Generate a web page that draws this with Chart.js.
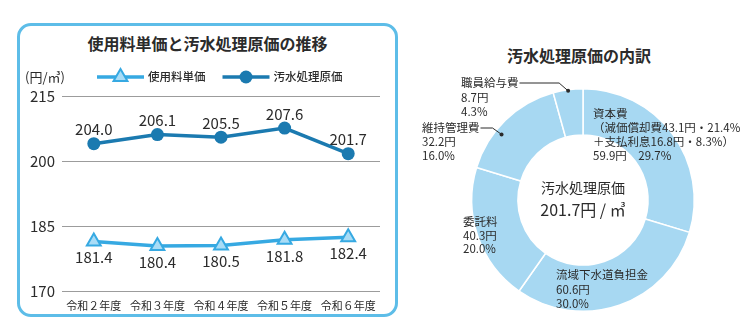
<!DOCTYPE html>
<html lang="ja">
<head>
<meta charset="utf-8">
<title>使用料単価と汚水処理原価</title>
<script src="https://cdn.jsdelivr.net/npm/chart.js@4.4.1/dist/chart.umd.min.js"></script>
<style>
  html, body { margin: 0; padding: 0; background: #fff; }
  body {
    width: 752px; height: 324px; position: relative; overflow: hidden;
    font-family: "Noto Sans CJK JP", "Noto Sans", sans-serif; color: #2b2b2b;
  }
  .panel {
    position: absolute; left: 17px; top: 23px; width: 381px; height: 294px;
    box-sizing: border-box; border: 3px solid #5dbde8; border-radius: 14px;
  }
  .title {
    position: absolute; font-size: 16px; line-height: 20px; font-weight: bold;
    text-align: center; white-space: nowrap;
  }
  #trendTitle { left: 17px; width: 381px; top: 33px; }
  #costTitle  { left: 400px; width: 358px; top: 45px; }
  canvas { position: absolute; top: 0; }
  #trend { left: 0; }
  #cost  { left: 400px; }
</style>
</head>
<body>
<div class="panel"></div>
<div class="title" id="trendTitle">使用料単価と汚水処理原価の推移</div>
<div class="title" id="costTitle">汚水処理原価の内訳</div>
<canvas id="trend" width="400" height="324"></canvas>
<canvas id="cost" width="352" height="324"></canvas>

<script>
  // ── Data ────────────────────────────────────────────────────────────────
  const YEARS      = ['令和２年度', '令和３年度', '令和４年度', '令和５年度', '令和６年度'];
  const USAGE_FEE  = [181.4, 180.4, 180.5, 181.8, 182.4];   // 使用料単価 (円/㎥)
  const TREAT_COST = [204.0, 206.1, 205.5, 207.6, 201.7];   // 汚水処理原価 (円/㎥)
  const Y_TICKS    = [170, 185, 200, 215];

  const COST_ITEMS = ['資本費', '流域下水道負担金', '委託料', '維持管理費', '職員給与費'];
  const COST_YEN   = [59.9, 60.6, 40.3, 32.2, 8.7];
  const COST_PCT   = [29.7, 30.0, 20.0, 16.0, 4.3];
  // 資本費の内訳
  const CAPITAL_PARTS = ['減価償却費', '支払利息'];
  const CAPITAL_YEN   = [43.1, 16.8];
  const CAPITAL_PCT   = [21.4, 8.3];

  const FONT = '"Noto Sans CJK JP", "Noto Sans", sans-serif';
  const INK  = '#2b2b2b';
  const LIGHT_BLUE = '#36a9e2';
  const DEEP_BLUE  = '#1b7ab0';
  const RING_BLUE  = '#a7d8f2';

  // ── Line chart: legend drawn as line + marker ───────────────────────────
  const lineLegend = {
    id: 'lineLegend',
    afterDraw(chart, args, opts) {
      const { ctx, chartArea } = chart;
      const y = chartArea.top - 19;
      ctx.save();
      ctx.textBaseline = 'middle';
      ctx.textAlign = 'left';
      ctx.fillStyle = INK;
      ctx.font = '13px ' + FONT;
      ctx.fillText('(円/㎥)', opts.unitX, y);

      let x = opts.startX;
      ctx.font = '500 11.5px ' + FONT;
      chart.data.datasets.forEach(ds => {
        ctx.strokeStyle = ds.borderColor;
        ctx.lineWidth = ds.borderWidth;
        ctx.beginPath();
        ctx.moveTo(x, y);
        ctx.lineTo(x + opts.lineLength, y);
        ctx.stroke();

        ctx.fillStyle = ds.pointBackgroundColor;
        ctx.strokeStyle = ds.pointBorderColor;
        ctx.lineWidth = ds.pointBorderWidth;
        Chart.helpers.drawPoint(ctx, {
          pointStyle: ds.pointStyle,
          radius: ds.pointRadius,
          borderWidth: ds.pointBorderWidth,
          rotation: 0,
        }, x + opts.lineLength / 2, y);

        x += opts.lineLength + opts.textGap;
        ctx.fillStyle = INK;
        ctx.fillText(ds.label, x, y);
        x += ctx.measureText(ds.label).width + opts.itemGap;
      });
      ctx.restore();
    },
  };

  // value above / below each point
  const valueLabels = {
    id: 'valueLabels',
    afterDatasetsDraw(chart) {
      const { ctx } = chart;
      ctx.save();
      ctx.font = '15px ' + FONT;
      ctx.fillStyle = INK;
      ctx.textAlign = 'center';
      ctx.textBaseline = 'middle';
      chart.data.datasets.forEach((ds, i) => {
        chart.getDatasetMeta(i).data.forEach((pt, j) => {
          ctx.fillText(ds.data[j].toFixed(1), pt.x, pt.y + ds.labelShift);
        });
      });
      ctx.restore();
    },
  };

  new Chart(document.getElementById('trend'), {
    type: 'line',
    data: {
      labels: YEARS,
      datasets: [
        {
          label: '使用料単価',
          data: USAGE_FEE,
          borderColor: LIGHT_BLUE,
          borderWidth: 3.5,
          pointStyle: 'triangle',
          pointRadius: 8,
          pointBackgroundColor: '#a9dcf6',
          pointBorderColor: LIGHT_BLUE,
          pointBorderWidth: 2,
          tension: 0,
          labelShift: 16,
        },
        {
          label: '汚水処理原価',
          data: TREAT_COST,
          borderColor: DEEP_BLUE,
          borderWidth: 3.5,
          pointStyle: 'circle',
          pointRadius: 6.5,
          pointBackgroundColor: DEEP_BLUE,
          pointBorderColor: DEEP_BLUE,
          pointBorderWidth: 0,
          tension: 0,
          labelShift: -14,
        },
      ],
    },
    options: {
      responsive: false,
      animation: false,
      layout: { padding: { top: 96, left: 17, right: 20, bottom: 9 } },
      plugins: {
        legend: { display: false },
        tooltip: { enabled: false },
        lineLegend: { unitX: 25, startX: 97, lineLength: 47, textGap: 4, itemGap: 17 },
      },
      scales: {
        x: {
          offset: true,
          grid: { display: false, drawTicks: false },
          border: { display: false },
          ticks: { padding: 8, color: INK, font: { family: FONT, size: 11 }, maxRotation: 0 },
          afterFit: s => { s.height = 24; },
        },
        y: {
          min: Y_TICKS[0],
          max: Y_TICKS[Y_TICKS.length - 1],
          afterBuildTicks: s => { s.ticks = Y_TICKS.map(v => ({ value: v })); },
          grid: { color: '#9c9c9c', lineWidth: 1, drawTicks: false },
          border: { display: false },
          ticks: { padding: 7, color: INK, font: { family: FONT, size: 15 } },
          afterFit: s => { s.width = 45; },
        },
      },
    },
    plugins: [lineLegend, valueLabels],
  });

  // ── Doughnut: breakdown of treatment cost ───────────────────────────────
  function sliceLines(i) {
    const yen = COST_YEN[i].toFixed(1) + '円';
    const pct = COST_PCT[i].toFixed(1) + '%';
    if (i === 0) {
      return [
        COST_ITEMS[0],
        '（' + CAPITAL_PARTS[0] + CAPITAL_YEN[0].toFixed(1) + '円・' + CAPITAL_PCT[0].toFixed(1) + '%',
        '＋' + CAPITAL_PARTS[1] + CAPITAL_YEN[1].toFixed(1) + '円・' + CAPITAL_PCT[1].toFixed(1) + '%）',
        yen + '　' + pct,
      ];
    }
    return [COST_ITEMS[i], yen, pct];
  }

  // text block offsets from the ring centre; leader = point along the slice
  const SLICE_LAYOUT = [
    { dx: 10,   dy: -86,  lh: 14 },
    { dx: -27,  dy: 75,   lh: 14.5 },
    { dx: -120, dy: 22,   lh: 13.5 },
    { dx: -161, dy: -72,  lh: 14, leader: { at: 0.38, r: 0.94 } },
    { dx: -122, dy: -117, lh: 14.5, leader: { at: 0.5, r: 0.99 } },
  ];

  const sliceLabels = {
    id: 'sliceLabels',
    afterDraw(chart) {
      const { ctx } = chart;
      const arcs = chart.getDatasetMeta(0).data;
      ctx.save();
      ctx.fillStyle = INK;
      ctx.strokeStyle = INK;
      ctx.textAlign = 'left';
      ctx.textBaseline = 'middle';
      ctx.font = '11.5px ' + FONT;

      arcs.forEach((arc, i) => {
        const lay = SLICE_LAYOUT[i];
        const lines = sliceLines(i);
        const x0 = arc.x + lay.dx;
        const y0 = arc.y + lay.dy;
        lines.forEach((t, k) => ctx.fillText(t, x0, y0 + k * lay.lh));

        if (lay.leader) {
          const a = arc.startAngle + (arc.endAngle - arc.startAngle) * lay.leader.at;
          const r = arc.outerRadius * lay.leader.r;
          const px = arc.x + Math.cos(a) * r;
          const py = arc.y + Math.sin(a) * r;
          const tx = x0 + ctx.measureText(lines[0]).width + 1;
          ctx.lineWidth = 1;
          ctx.beginPath();
          ctx.moveTo(tx, y0);
          ctx.lineTo(px - 9, y0);
          ctx.lineTo(px, py);
          ctx.stroke();
          ctx.beginPath();
          ctx.arc(px, py, 2, 0, Math.PI * 2);
          ctx.fill();
        }
      });

      // total in the hole
      const cx = arcs[0].x, cy = arcs[0].y;
      const total = COST_YEN.reduce((a, b) => a + b, 0);
      ctx.textAlign = 'center';
      ctx.font = '14px ' + FONT;
      ctx.fillText('汚水処理原価', cx, cy - 12);
      ctx.font = '16px ' + FONT;
      ctx.fillText(total.toFixed(1) + '円 / ㎥', cx, cy + 10);
      ctx.restore();
    },
  };

  new Chart(document.getElementById('cost'), {
    type: 'doughnut',
    data: {
      labels: COST_ITEMS,
      datasets: [{
        data: COST_YEN,
        backgroundColor: RING_BLUE,
        borderColor: '#ffffff',
        borderWidth: 1.5,
      }],
    },
    options: {
      responsive: false,
      animation: false,
      cutout: '58.5%',
      layout: { padding: { top: 88, left: 71, right: 57, bottom: 12 } },
      plugins: {
        legend: { display: false },
        tooltip: { enabled: false },
      },
    },
    plugins: [sliceLabels],
  });
</script>
</body>
</html>
